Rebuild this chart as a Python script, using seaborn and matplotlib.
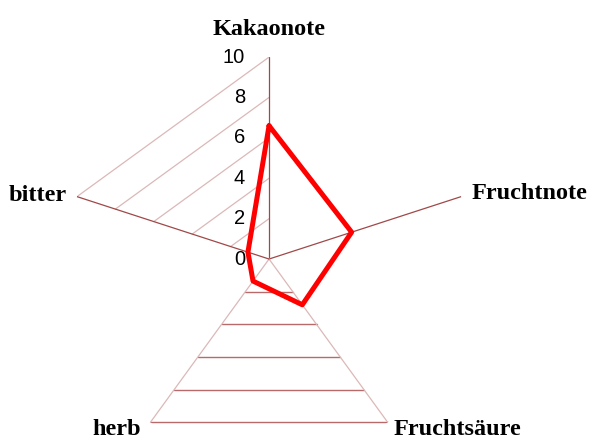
import numpy as np
import pandas as pd
import matplotlib
matplotlib.use("Agg")
import matplotlib.pyplot as plt
import seaborn as sns

categories = ["Kakaonote", "Fruchtnote", "Fruchtsäure", "herb", "bitter"]
values = [6.6, 4.3, 2.8, 1.35, 1.1]
tick_values = [0, 2, 4, 6, 8, 10]
tick_labels = ["0", "2", "4", "6", "8", "10"]

sns.set_theme(style="white")
plt.rcParams['font.family'] = ['Liberation Sans', 'DejaVu Sans']

n = len(categories)
angles = [2 * np.pi * i / n for i in range(n)]

fig = plt.figure(figsize=(5.89, 4.40), dpi=100)
ax = fig.add_axes([0.1138, -0.0477, 0.686, 0.918], projection="polar")
ax.set_theta_offset(np.pi / 2)
ax.set_theta_direction(-1)
ax.set_ylim(0, 10)
ax.grid(False)
ax.spines['polar'].set_visible(False)
ax.set_xticks([])
ax.set_yticks([])
ax.patch.set_alpha(0)

pink = "#dcb8b8"
dark = "#a04848"
mid = "#b86a6a"

# grid segments bitter-Kakaonote (pink) and herb-Fruchtsäure (darker)
for v in tick_values[1:]:
    ax.plot([angles[4], 2 * np.pi], [v, v], color=pink, lw=0.9, zorder=1)
    ax.plot([angles[2], angles[3]], [v, v], color=mid, lw=1.0, zorder=1)

# radial axes
axis_colors = [dark, dark, pink, pink, dark]
for a, c in zip(angles, axis_colors):
    ax.plot([a, a], [0, 10], color=c, lw=0.9, zorder=2)

# data line
df = pd.DataFrame({"theta": angles + [angles[0]], "value": values + [values[0]]})
sns.lineplot(data=df, x="theta", y="value", sort=False, ax=ax,
             color="#ff0000", lw=3.6, zorder=5, estimator=None)
ax.set_xlabel("")
ax.set_ylabel("")

# tick labels
for v, lab in zip(tick_values, tick_labels):
    ax.annotate(lab, xy=(0, v), xytext=(-24, 0), textcoords="offset pixels",
                ha="right", va="center", fontsize=14.5, color="black",
                family=["Liberation Sans", "DejaVu Sans"])

# category labels (offsets to baseline)
offsets = [(0, 22, "center"),
           (10, -2, "left"),
           (6, -13, "left"),
           (-9, -13, "right"),
           (-10, -4, "right")]
for a, lab, (dx, dy, ha) in zip(angles, categories, offsets):
    ax.annotate(lab, xy=(a, 10), xytext=(dx, dy), textcoords="offset pixels",
                ha=ha, va="baseline", fontsize=17.5, fontweight="bold",
                family=["Liberation Serif", "DejaVu Serif"], color="black",
                annotation_clip=False)

fig.savefig("out.png", dpi=100)
